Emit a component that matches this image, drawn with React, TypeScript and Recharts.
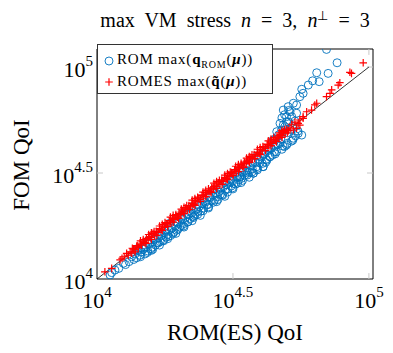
import React from "react";
import {
  ScatterChart,
  Scatter,
  XAxis,
  YAxis,
  ReferenceLine,
  ReferenceArea,
  Legend,
} from "recharts";

const FONT = '"Liberation Serif", "Times New Roman", serif';
const BLUE = "#0072bd";
const RED = "#ff0000";

// axis limits (log10 exponents)
const xLimits = [4, 5.015];
const yLimits = [4, 5.085];
const tickExps = [4, 4.5, 5];

// ROM max(q_ROM(mu)) — log10 pairs [ROM(ES) QoI, FOM QoI]
const romPoints: [number, number][] = [
  [4.048, 4.019], [4.054, 4.03], [4.066, 4.042], [4.08, 4.05], [4.097, 4.074],
  [4.105, 4.068], [4.118, 4.082], [4.127, 4.105], [4.135, 4.092],
  [4.14, 4.118], [4.146, 4.1], [4.152, 4.135], [4.158, 4.112], [4.163, 4.128],
  [4.17, 4.14], [4.176, 4.118], [4.181, 4.15], [4.187, 4.132], [4.193, 4.165],
  [4.198, 4.142], [4.204, 4.15], [4.21, 4.185], [4.215, 4.16], [4.221, 4.172],
  [4.226, 4.195], [4.232, 4.176], [4.238, 4.205], [4.243, 4.183], [4.249, 4.218],
  [4.254, 4.198], [4.26, 4.21], [4.265, 4.232], [4.271, 4.205], [4.276, 4.24],
  [4.282, 4.222], [4.288, 4.25], [4.293, 4.23], [4.299, 4.262], [4.304, 4.245],
  [4.31, 4.252], [4.315, 4.282], [4.321, 4.262], [4.326, 4.29], [4.332, 4.268],
  [4.338, 4.305], [4.343, 4.285], [4.349, 4.312], [4.354, 4.295], [4.36, 4.3],
  [4.365, 4.33], [4.371, 4.318], [4.376, 4.342], [4.382, 4.32], [4.388, 4.355],
  [4.393, 4.335], [4.399, 4.362], [4.404, 4.35], [4.41, 4.352], [4.415, 4.385],
  [4.421, 4.37], [4.426, 4.395], [4.432, 4.372], [4.438, 4.405], [4.443, 4.388],
  [4.449, 4.412], [4.454, 4.4], [4.46, 4.398], [4.465, 4.435], [4.471, 4.418],
  [4.476, 4.445], [4.482, 4.425], [4.488, 4.455], [4.493, 4.438], [4.499, 4.462],
  [4.504, 4.45], [4.51, 4.448], [4.515, 4.48], [4.521, 4.468], [4.526, 4.483],
  [4.532, 4.475], [4.538, 4.505], [4.543, 4.49], [4.549, 4.512], [4.554, 4.5],
  [4.56, 4.505], [4.565, 4.535], [4.571, 4.52], [4.575, 4.499], [4.582, 4.55],
  [4.588, 4.53], [4.593, 4.565], [4.599, 4.548], [4.605, 4.575], [4.611, 4.53],
  [4.616, 4.59], [4.622, 4.565], [4.628, 4.605], [4.636, 4.577], [4.64, 4.615],
  [4.648, 4.656], [4.652, 4.6], [4.661, 4.695], [4.665, 4.635],
  [4.151, 4.144], [4.189, 4.183], [4.231, 4.221], [4.268, 4.263], [4.311, 4.299],
  [4.349, 4.341], [4.392, 4.379], [4.429, 4.421], [4.472, 4.459], [4.508, 4.501],
  [4.552, 4.539], [4.589, 4.581], [4.631, 4.618],
  [4.16, 4.105], [4.185, 4.125], [4.205, 4.14], [4.225, 4.17], [4.245, 4.18],
  [4.262, 4.2], [4.28, 4.215], [4.298, 4.235], [4.318, 4.25], [4.335, 4.27],
  [4.355, 4.29], [4.37, 4.305], [4.39, 4.322], [4.41, 4.34], [4.428, 4.362],
  [4.445, 4.375], [4.462, 4.395], [4.48, 4.41], [4.498, 4.43], [4.517, 4.452],
  [4.535, 4.465], [4.552, 4.49], [4.57, 4.505], [4.59, 4.522], [4.608, 4.545],
  [4.625, 4.56], [4.645, 4.585], [4.66, 4.6], [4.68, 4.612], [4.7, 4.64],
  [4.715, 4.65], [4.73, 4.675],
  [4.172, 4.148], [4.212, 4.19], [4.252, 4.228], [4.292, 4.27], [4.332, 4.305],
  [4.372, 4.35], [4.412, 4.388], [4.452, 4.428], [4.492, 4.468], [4.532, 4.505],
  [4.572, 4.548], [4.612, 4.588], [4.652, 4.628],
  [4.2, 4.135], [4.23, 4.16], [4.26, 4.19], [4.29, 4.215], [4.32, 4.245],
  [4.35, 4.275], [4.38, 4.3], [4.41, 4.335], [4.44, 4.365], [4.47, 4.39],
  [4.5, 4.425], [4.53, 4.455], [4.56, 4.48], [4.59, 4.515], [4.62, 4.55],
  [4.655, 4.59], [4.69, 4.625], [4.72, 4.655],
  [4.673, 4.64], [4.697, 4.632], [4.684, 4.627], [4.722, 4.664], [4.739, 4.698],
  [4.753, 4.679], [4.74, 4.687], [4.673, 4.734], [4.685, 4.797], [4.703, 4.813],
  [4.691, 4.718], [4.697, 4.766], [4.734, 4.782], [4.679, 4.703], [4.685, 4.726],
  [4.697, 4.742], [4.716, 4.766], [4.71, 4.789], [4.734, 4.821], [4.722, 4.829],
  [4.746, 4.86], [4.758, 4.876], [4.753, 4.895], [4.777, 4.915], [4.793, 4.935],
  [4.817, 4.931], [4.808, 4.973], [4.85, 4.97], [4.883, 5.02], [4.844, 5.083],
  [4.668, 4.68], [4.676, 4.66], [4.69, 4.7], [4.7, 4.69], [4.705, 4.74],
  [4.712, 4.705], [4.728, 4.745], [4.718, 4.72], [4.66, 4.64], [4.655, 4.66],
  [4.68, 4.76], [4.69, 4.775], [4.705, 4.795],
  [4.611, 4.53], [4.636, 4.577], [4.575, 4.499], [4.526, 4.483],
];

// ROMES max(q~(mu)) — log10 pairs [ROM(ES) QoI, FOM QoI]
const romesPoints: [number, number][] = [
  [4.029, 4.034], [4.054, 4.05], [4.085, 4.09], [4.092, 4.098], [4.109, 4.121],
  [4.1, 4.105], [4.115, 4.112],
  [4.122, 4.128], [4.128, 4.122], [4.134, 4.142], [4.14, 4.138], [4.146, 4.155],
  [4.152, 4.148], [4.158, 4.165], [4.164, 4.16], [4.17, 4.178], [4.176, 4.172],
  [4.182, 4.19], [4.188, 4.185], [4.194, 4.2], [4.2, 4.196], [4.206, 4.215],
  [4.212, 4.208], [4.218, 4.225], [4.224, 4.22], [4.23, 4.238], [4.236, 4.232],
  [4.242, 4.25], [4.248, 4.244], [4.254, 4.262], [4.26, 4.256], [4.266, 4.275],
  [4.272, 4.268], [4.278, 4.286], [4.284, 4.28], [4.29, 4.298], [4.296, 4.292],
  [4.302, 4.31], [4.308, 4.304], [4.314, 4.322], [4.32, 4.316], [4.326, 4.335],
  [4.332, 4.328], [4.338, 4.346], [4.344, 4.34], [4.35, 4.358], [4.356, 4.352],
  [4.362, 4.371], [4.368, 4.364], [4.374, 4.382], [4.38, 4.376], [4.386, 4.394],
  [4.392, 4.388], [4.398, 4.407], [4.404, 4.4], [4.41, 4.418], [4.416, 4.412],
  [4.422, 4.43], [4.428, 4.424], [4.434, 4.443], [4.44, 4.436], [4.446, 4.454],
  [4.452, 4.448], [4.458, 4.466], [4.464, 4.46], [4.47, 4.479], [4.476, 4.472],
  [4.482, 4.49], [4.488, 4.484], [4.494, 4.502], [4.5, 4.496], [4.506, 4.515],
  [4.512, 4.508], [4.518, 4.526], [4.524, 4.52], [4.53, 4.538], [4.536, 4.532],
  [4.542, 4.551], [4.548, 4.544], [4.554, 4.562], [4.56, 4.556], [4.566, 4.574],
  [4.572, 4.568], [4.578, 4.587], [4.584, 4.58], [4.59, 4.598], [4.596, 4.592],
  [4.602, 4.61], [4.608, 4.604], [4.614, 4.623], [4.62, 4.616], [4.626, 4.634],
  [4.632, 4.628], [4.638, 4.646], [4.644, 4.64], [4.65, 4.659], [4.656, 4.652],
  [4.662, 4.67], [4.668, 4.664], [4.674, 4.682], [4.68, 4.676], [4.686, 4.695],
  [4.692, 4.688], [4.698, 4.706], [4.704, 4.7], [4.71, 4.712],
  [4.16, 4.18], [4.2, 4.218], [4.24, 4.258], [4.28, 4.3], [4.32, 4.338],
  [4.36, 4.38], [4.4, 4.418], [4.44, 4.46], [4.48, 4.498], [4.52, 4.54],
  [4.56, 4.578], [4.6, 4.62], [4.64, 4.66], [4.68, 4.7],
  [4.18, 4.168], [4.22, 4.206], [4.26, 4.248], [4.3, 4.286], [4.34, 4.328],
  [4.38, 4.366], [4.42, 4.408], [4.46, 4.446], [4.5, 4.488], [4.54, 4.526],
  [4.58, 4.568], [4.62, 4.606], [4.66, 4.648], [4.7, 4.69],
  [4.13, 4.145], [4.17, 4.186], [4.21, 4.224], [4.25, 4.266], [4.29, 4.304],
  [4.33, 4.346], [4.37, 4.386], [4.41, 4.425], [4.45, 4.466], [4.49, 4.505],
  [4.53, 4.546], [4.57, 4.586], [4.61, 4.625], [4.65, 4.667], [4.69, 4.705],
  [4.14, 4.128], [4.2, 4.187], [4.24, 4.229], [4.28, 4.268], [4.32, 4.308],
  [4.36, 4.347], [4.4, 4.389], [4.44, 4.427], [4.48, 4.469], [4.52, 4.507],
  [4.56, 4.549], [4.6, 4.587], [4.64, 4.629], [4.68, 4.668],
  [4.15, 4.157], [4.19, 4.196], [4.23, 4.236], [4.27, 4.276], [4.31, 4.316],
  [4.35, 4.356], [4.39, 4.397], [4.43, 4.436], [4.47, 4.476], [4.51, 4.516],
  [4.55, 4.556], [4.59, 4.597], [4.63, 4.636], [4.67, 4.676],
  [4.19, 4.21], [4.23, 4.25], [4.27, 4.292], [4.31, 4.33], [4.35, 4.372],
  [4.39, 4.41], [4.43, 4.452], [4.47, 4.49], [4.51, 4.532], [4.55, 4.57],
  [4.59, 4.612], [4.63, 4.652], [4.67, 4.69],
  [4.722, 4.703], [4.734, 4.711], [4.746, 4.726], [4.746, 4.75], [4.758, 4.766],
  [4.771, 4.789], [4.789, 4.797], [4.801, 4.821], [4.808, 4.829], [4.844, 4.86],
  [4.857, 4.876], [4.863, 4.892], [4.887, 4.915], [4.893, 4.926], [4.93, 4.975],
  [4.936, 4.97], [4.979, 5.02], [4.74, 4.734], [4.758, 4.758], [4.716, 4.73],
  [4.728, 4.74],
];

const pow = (e: number) => Math.pow(10, e);
const romData = romPoints.map(([x, y]) => ({ x: pow(x), y: pow(y) }));
const romesData = romesPoints.map(([x, y]) => ({ x: pow(x), y: pow(y) }));
const ticks = tickExps.map(pow);
const xDomain = xLimits.map(pow);
const yDomain = yLimits.map(pow);

const expOf = (v: number) => String(Math.round(Math.log10(v) * 10) / 10);

const XTick = (props: any) => {
  const { x, y, payload } = props;
  return (
    <text x={x} y={y + 29} textAnchor="middle" style={{ fontFamily: FONT, fontSize: 22 }} fill="#000">
      10
      <tspan dy={-11} style={{ fontSize: 15 }}>
        {expOf(payload.value)}
      </tspan>
    </text>
  );
};

const YTick = (props: any) => {
  const { x, y, payload } = props;
  return (
    <text x={x} y={y + 10} textAnchor="end" style={{ fontFamily: FONT, fontSize: 22 }} fill="#000">
      10
      <tspan dy={-11} style={{ fontSize: 15 }}>
        {expOf(payload.value)}
      </tspan>
    </text>
  );
};

const Circle = (props: any) => (
  <circle cx={props.cx} cy={props.cy} r={4} fill="none" stroke={BLUE} strokeWidth={0.9} />
);

const Plus = (props: any) => (
  <path
    d={`M${props.cx - 3.8},${props.cy}H${props.cx + 3.8}M${props.cx},${props.cy - 3.8}V${props.cy + 3.8}`}
    stroke={RED}
    strokeWidth={1.2}
    fill="none"
  />
);

const LegendBox = () => (
  <div
    style={{
      position: "relative",
      width: 176,
      height: 50,
      background: "#fff",
      border: "1px solid #333",
      boxSizing: "border-box",
      fontFamily: FONT,
      fontSize: 15,
      color: "#000",
      textAlign: "left",
    }}
  >
    <svg width={20} height={50} style={{ position: "absolute", left: 0, top: 0 }}>
      <circle cx={11} cy={16} r={4} fill="none" stroke={BLUE} strokeWidth={0.9} />
      <path d="M7.2,37H14.8M11,33.2V40.8" stroke={RED} strokeWidth={1.2} />
    </svg>
    <div style={{ position: "absolute", left: 19, top: 6, whiteSpace: "nowrap", lineHeight: "16px", letterSpacing: 0.8 }}>
      ROM max(<b>q</b>
      <sub style={{ fontSize: 10 }}>ROM</sub>(<b><i>μ</i></b>))
    </div>
    <div style={{ position: "absolute", left: 19, top: 28, whiteSpace: "nowrap", lineHeight: "16px", letterSpacing: 0.8 }}>
      ROMES max(<b>q̃</b>(<b><i>μ</i></b>))
    </div>
  </div>
);

export default function App() {
  return (
    <div style={{ position: "absolute", left: 0, top: 0, width: 393, height: 353, background: "#fff" }}>
      <ScatterChart width={393} height={353} margin={{ top: 49, right: 20, bottom: 0, left: 0 }}>
        <XAxis
          dataKey="x"
          type="number"
          scale="log"
          domain={xDomain}
          allowDataOverflow
          ticks={ticks}
          tick={<XTick />}
          tickLine={false}
          axisLine={false}
          tickSize={0}
          tickMargin={0}
          height={74}
        />
        <YAxis
          dataKey="y"
          type="number"
          scale="log"
          domain={yDomain}
          allowDataOverflow
          ticks={ticks}
          tick={<YTick />}
          tickLine={false}
          axisLine={false}
          tickSize={0}
          tickMargin={4}
          width={97}
        />
        <ReferenceArea
          x1={xDomain[0]}
          x2={xDomain[1]}
          y1={yDomain[0]}
          y2={yDomain[1]}
          fill="none"
          stroke="#000"
          strokeWidth={1}
          ifOverflow="visible"
        />
        {ticks.slice(1).map((t) => (
          <ReferenceLine
            key={`bx${t}`}
            segment={[{ x: t, y: yDomain[0] }, { x: t, y: pow(4.028) }]}
            stroke="#c8c8c8"
          />
        ))}
        {ticks.slice(1).map((t) => (
          <ReferenceLine
            key={`tx${t}`}
            segment={[{ x: t, y: yDomain[1] }, { x: t, y: pow(yLimits[1] - 0.028) }]}
            stroke="#c8c8c8"
          />
        ))}
        {ticks.slice(1).map((t) => (
          <ReferenceLine
            key={`ly${t}`}
            segment={[{ x: xDomain[0], y: t }, { x: pow(4.022), y: t }]}
            stroke="#c8c8c8"
          />
        ))}
        {ticks.slice(1).map((t) => (
          <ReferenceLine
            key={`ry${t}`}
            segment={[{ x: xDomain[1], y: t }, { x: pow(xLimits[1] - 0.022), y: t }]}
            stroke="#c8c8c8"
          />
        ))}
        <ReferenceLine
          segment={[{ x: ticks[0], y: ticks[0] }, { x: ticks[2], y: ticks[2] }]}
          stroke="#000"
          strokeWidth={0.8}
        />
        <Scatter name="ROM" data={romData} shape={<Circle />} isAnimationActive={false} />
        <Scatter name="ROMES" data={romesData} shape={<Plus />} isAnimationActive={false} />
        <Legend
          layout="vertical"
          align="center"
          verticalAlign="middle"
          content={<LegendBox />}
          wrapperStyle={{ left: 97, top: 44, width: 176, height: 50 }}
        />
      </ScatterChart>
      <svg
        width={393}
        height={353}
        style={{ position: "absolute", left: 0, top: 0, pointerEvents: "none" }}
      >
        <text x={235} y={27} textAnchor="middle" style={{ fontFamily: FONT, fontSize: 20, wordSpacing: 5 }} fill="#000">
          max VM stress <tspan fontStyle="italic">n</tspan> = 3, <tspan fontStyle="italic">n</tspan>
          <tspan dy={-7} style={{ fontSize: 13 }}>⊥</tspan>
          <tspan dy={7}> = 3</tspan>
        </text>
        <text x={235} y={340} textAnchor="middle" style={{ fontFamily: FONT, fontSize: 23 }} fill="#000">
          ROM(ES) QoI
        </text>
        <text
          x={29}
          y={165}
          textAnchor="middle"
          style={{ fontFamily: FONT, fontSize: 23 }}
          fill="#000"
          transform="rotate(-90 29 165)"
        >
          FOM QoI
        </text>
      </svg>
    </div>
  );
}
